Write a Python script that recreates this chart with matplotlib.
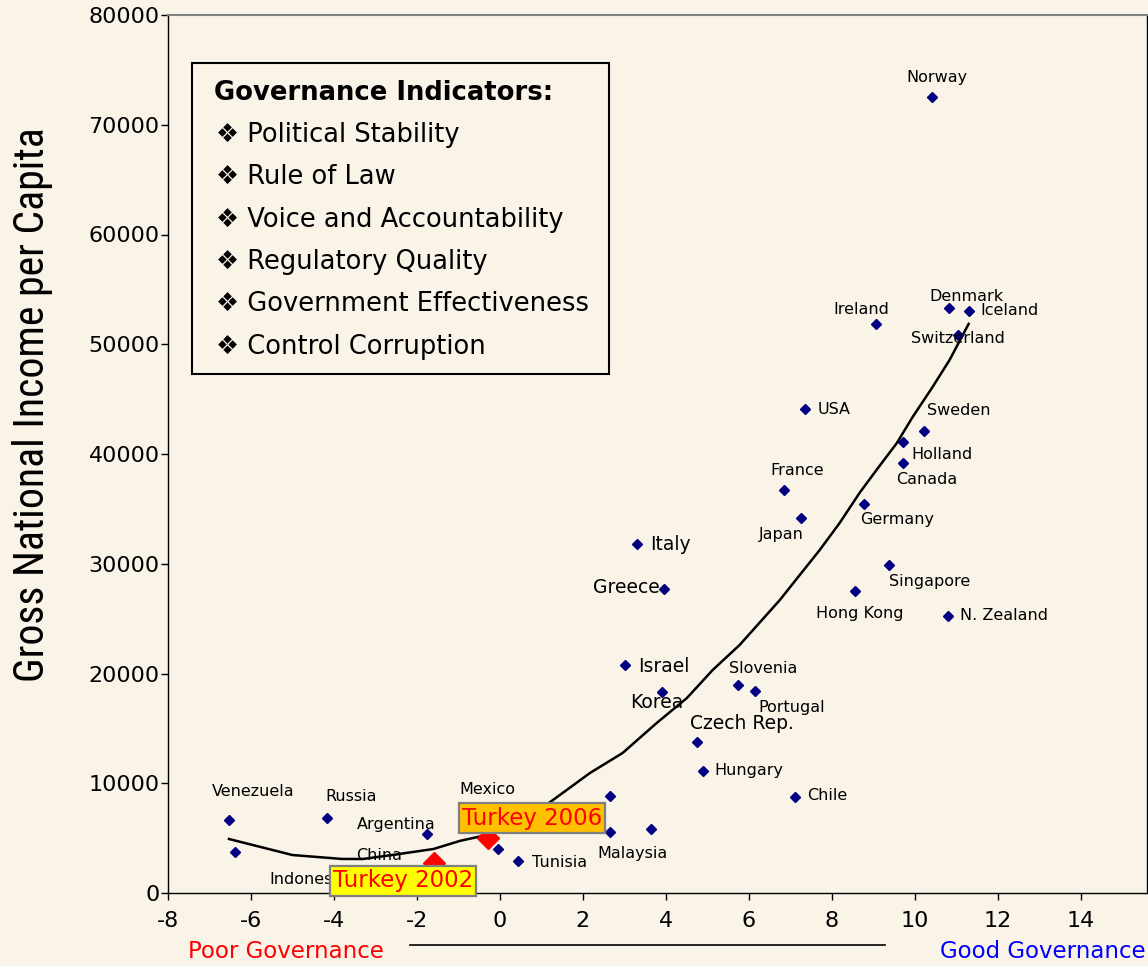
import matplotlib

matplotlib.use("Agg")
import matplotlib.pyplot as plt
from matplotlib import font_manager
from matplotlib.lines import Line2D
from matplotlib.patches import Rectangle

W, H, DPI = 1148, 966, 100
BG = "#F9F3E8"
NAVY = "#000080"

# governance score (sum of six indicators) vs GNI per capita
COUNTRIES = [
    "Norway", "Denmark", "Iceland", "Ireland", "Switzerland", "USA", "Sweden",
    "Holland", "Canada", "France", "Germany", "Japan", "Italy", "Greece",
    "Singapore", "Hong Kong", "N. Zealand", "Israel", "Korea", "Slovenia",
    "Portugal", "Czech Rep.", "Hungary", "Chile", "Venezuela", "Russia",
    "Argentina", "Mexico", "China", "Indonesia", "Tunisia", "Malaysia",
    "", "", "", "",
]
GOVERNANCE = [
    10.41, 10.82, 11.30, 9.06, 11.04, 7.35, 10.22,
    9.73, 9.71, 6.84, 8.77, 7.25, 3.30, 3.95,
    9.37, 8.55, 10.80, 3.01, 3.90, 5.73,
    6.14, 4.75, 4.89, 7.11, -6.53, -4.17,
    -1.76, -0.24, -2.60, -3.60, 0.43, 3.64,
    -6.39, -0.05, 2.65, 2.65,
]
GNI = [
    72500, 53300, 53000, 51850, 50850, 44100, 42100,
    41100, 39200, 36700, 35450, 34150, 31800, 27700,
    29900, 27500, 25250, 20750, 18300, 18950,
    18400, 13750, 11100, 8750, 6650, 6850,
    5400, 7400, 1900, 1400, 2900, 5850,
    3750, 4000, 8850, 5550,
]

TURKEY_LABELS = ["Turkey 2002", "Turkey 2006"]
TURKEY_GOV = [-1.59, -0.29]
TURKEY_GNI = [2750, 5000]

# trend line
TREND_X = [-6.53, -5.0, -3.8, -3.3, -2.6, -1.6, -0.96, -0.3, 0.17, 0.65,
           1.28, 2.17, 2.96, 3.78, 4.51, 5.13, 5.78, 6.75, 7.23, 7.71,
           8.19, 8.67, 9.11, 9.57, 9.95, 10.43, 10.84, 11.3]
TREND_Y = [4920, 3460, 3100, 3100, 3460, 4010, 4750, 5300, 6250, 6830,
           8470, 10930, 12760, 15490, 17770, 20320, 22600, 26700, 28980, 31250,
           33710, 36450, 38700, 41000, 43370, 46100, 48560, 51850]

INDICATORS = [
    "Political Stability",
    "Rule of Law",
    "Voice and Accountability",
    "Regulatory Quality",
    "Government Effectiveness",
    "Control Corruption",
]

X_TICKS = [-8, -6, -4, -2, 0, 2, 4, 6, 8, 10, 12, 14]
Y_TICKS = [0, 10000, 20000, 30000, 40000, 50000, 60000, 70000, 80000]

# label placement: (dx, dy) in pixels from point (dy downwards), alignment, big font
LABEL_POS = {
    "Norway": (5, -20, "center", False),
    "Denmark": (18, -12, "center", False),
    "Iceland": (12, -1, "left", False),
    "Ireland": (-14, -14, "center", False),
    "Switzerland": (0, 4, "center", False),
    "USA": (13, 0, "left", False),
    "Sweden": (35, -20, "center", False),
    "Holland": (8, 13, "left", False),
    "Canada": (24, 17, "center", False),
    "France": (14, -20, "center", False),
    "Germany": (33, 16, "center", False),
    "Japan": (-19, 16, "center", False),
    "Italy": (13, 1, "left", True),
    "Greece": (-4, -1, "right", True),
    "Singapore": (41, 17, "center", False),
    "Hong Kong": (5, 22, "center", False),
    "N. Zealand": (12, 0, "left", False),
    "Israel": (13, 1, "left", True),
    "Korea": (-5, 10, "center", True),
    "Slovenia": (26, -17, "center", False),
    "Portugal": (37, 16, "center", False),
    "Czech Rep.": (45, -19, "center", True),
    "Hungary": (12, -1, "left", False),
    "Chile": (12, -1, "left", False),
    "Venezuela": (24, -29, "center", False),
    "Russia": (24, -21, "center", False),
    "Argentina": (-31, -9, "center", False),
    "Mexico": (-3, -22, "center", False),
    "China": (-13, -17, "center", False),
    "Indonesia": (-81, 2, "left", False),
    "Tunisia": (14, 1, "left", False),
    "Malaysia": (-18, 25, "center", False),
}


def narrow_font():
    names = {f.name for f in font_manager.fontManager.ttflist}
    for name in ("Liberation Sans Narrow", "Roboto Condensed", "DejaVu Sans Condensed"):
        if name in names:
            return name, "normal"
    for f in font_manager.fontManager.ttflist:
        if f.name == "DejaVu Sans" and str(f.stretch) in ("condensed", "semi-condensed", "500", "375"):
            return "DejaVu Sans", "condensed"
    return "Liberation Sans", "normal"


plt.rcParams["font.family"] = ["DejaVu Sans"]

fig = plt.figure(figsize=(W / DPI, H / DPI), dpi=DPI, facecolor=BG)
ax = fig.add_axes([168 / W, 1 - 893 / H, (1147 - 168) / W, (893 - 15) / H])
ax.set_facecolor(BG)

ax.plot(TREND_X, TREND_Y, color="black", lw=1.8, zorder=2)
ax.plot(GOVERNANCE, GNI, ls="none", marker="D", ms=5.5, color=NAVY, zorder=3)

for name, gx, gy in zip(COUNTRIES, GOVERNANCE, GNI):
    if not name:
        continue
    dx, dy, ha, big = LABEL_POS[name]
    ax.annotate(name, (gx, gy), xytext=(dx, -dy), textcoords="offset pixels",
                ha=ha, va="center", fontsize=13.5 if big else 11.5, zorder=4)

ax.plot(TURKEY_GOV, TURKEY_GNI, ls="none", marker="D", ms=11, color="red", zorder=5,
        clip_on=False)
turkey_style = {
    "Turkey 2002": ((-31, 18), "#FFFF00"),
    "Turkey 2006": ((44, -20), "#FFC000"),
}
for name, gx, gy in zip(TURKEY_LABELS, TURKEY_GOV, TURKEY_GNI):
    (dx, dy), face = turkey_style[name]
    ax.annotate(name, (gx, gy), xytext=(dx, -dy), textcoords="offset pixels",
                ha="center", va="center", fontsize=16.5, color="red", zorder=6,
                annotation_clip=False,
                bbox=dict(boxstyle="square,pad=0.14", facecolor=face,
                          edgecolor="#808080", linewidth=1.6))

ax.set_xlim(-8, 15.6)
ax.set_ylim(0, 80000)
ax.set_xticks(X_TICKS)
ax.set_yticks(Y_TICKS)
ax.set_xticklabels([str(t) for t in X_TICKS])
ax.set_yticklabels([str(t) for t in Y_TICKS])
ax.tick_params(axis="x", direction="out", length=5, width=1, pad=8, labelsize=16)
ax.tick_params(axis="y", direction="out", length=5, width=1, pad=1, labelsize=16)
ax.spines["top"].set_color("#808080")
ax.spines["top"].set_linewidth(1.5)
for side in ("left", "bottom", "right"):
    ax.spines[side].set_color("black")
    ax.spines[side].set_linewidth(1.0)

# y label in a narrow face, sized so it spans the same length as the original
yfam, ystretch = narrow_font()
ylab = fig.text(33 / W, 1 - 405 / H, "Gross National Income per Capita", rotation=90,
                ha="center", va="center", fontsize=30, family=[yfam, "DejaVu Sans"],
                fontstretch=ystretch)
renderer = fig.canvas.get_renderer()
span = ylab.get_window_extent(renderer).height
ylab.set_fontsize(min(32, 30 * 554 / span))

# indicator box
fig.add_artist(Rectangle((192 / W, 1 - 374 / H), (609 - 192) / W, (374 - 63) / H,
                         transform=fig.transFigure, facecolor=BG, edgecolor="black",
                         linewidth=1.5, zorder=7))
fig.text(214 / W, 1 - 93 / H, "Governance Indicators:", fontsize=18.6, fontweight="bold",
         ha="left", va="center", zorder=8)
for i, item in enumerate(INDICATORS):
    fig.text(216 / W, 1 - (135 + 42.3 * i) / H, "\u2756 " + item, fontsize=18.5,
             ha="left", va="center", zorder=8)

fig.text(286 / W, 1 - 952 / H, "Poor Governance", color="red", fontsize=16.5,
         ha="center", va="center")
fig.text(1146 / W, 1 - 952 / H, "Good Governance", color="#0000FF", fontsize=16.5,
         ha="right", va="center")
fig.add_artist(Line2D([410 / W, 885 / W], [1 - 945 / H, 1 - 945 / H],
                      transform=fig.transFigure, color="black", lw=1.2))

fig.savefig("out.png", dpi=DPI, facecolor=BG)
